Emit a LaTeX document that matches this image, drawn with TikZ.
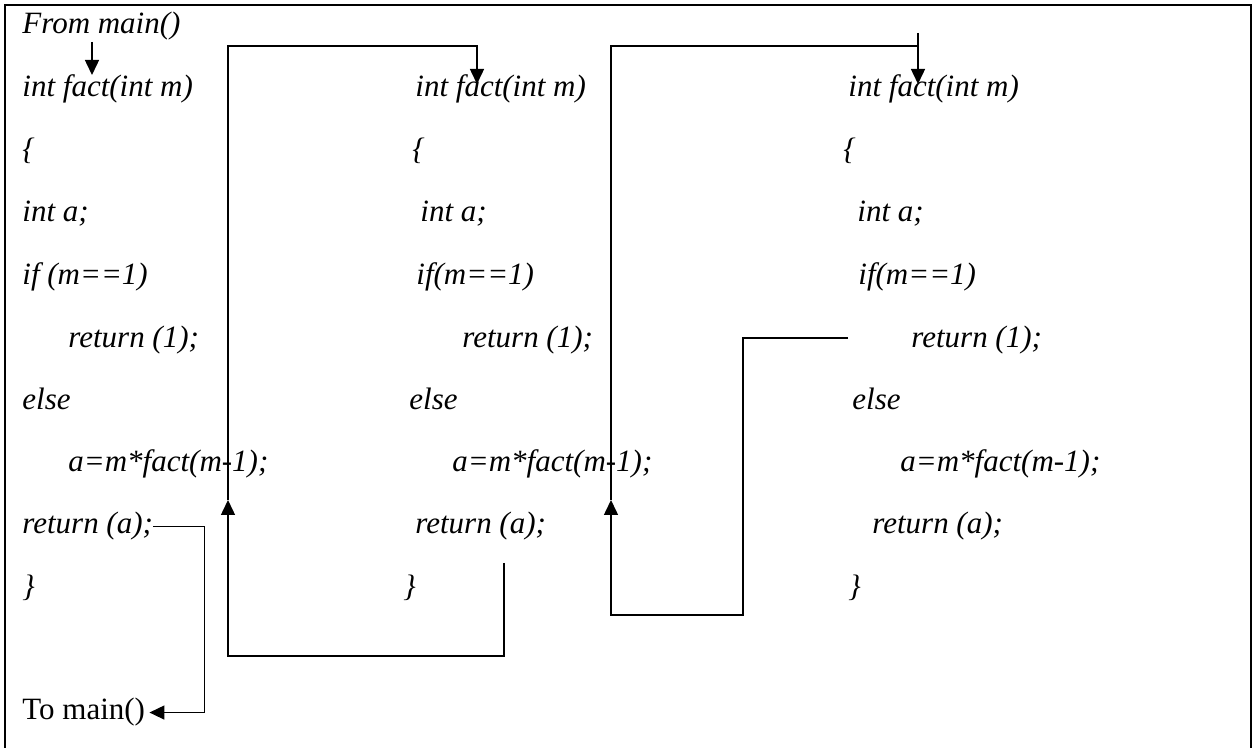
\documentclass[tikz,border=0pt]{standalone}
\usepackage{fontspec}
\setmainfont{Liberation Serif}
\usetikzlibrary{arrows.meta}
\tikzset{
    code/.style={anchor=base west, inner sep=0pt, font=\fontsize{15.5}{18}\selectfont\itshape},
    plain/.style={anchor=base west, inner sep=0pt, font=\fontsize{15.5}{18}\selectfont},
    flow/.style={line width=0.75pt},
    tip/.style={-{Triangle[length=7.5pt,width=7pt]}}
}

\begin{document}
\begin{tikzpicture}[x=0.5pt,y=-0.5pt]
    \useasboundingbox (0,0) rectangle (1255,748);
    \draw[line width=1pt] (5,748) -- (5,5) -- (1251,5) -- (1251,748);

    % first call
    \node[code] (main) at (22,34) {From main()};
    \node[code] (f1) at (22,97) {int fact(int m)};
    \node[code] (o1) at (22,160) {\{};
    \node[code] (a1) at (22,222) {int a;};
    \node[code] (if1) at (22,285) {if (m==1)};
    \node[code] (r11) at (68,348) {return (1);};
    \node[code] (e1) at (22,410) {else};
    \node[code] (m1) at (68,472) {a=m*fact(m-1);};
    \node[code] (ra1) at (22,534) {return (a);};
    \node[code] (c1) at (22,597) {\}};
    \node[plain] (tomain) at (22,720) {To main()};

    % second call
    \node[code] (f2) at (415,97) {int fact(int m)};
    \node[code] (o2) at (412,160) {\{};
    \node[code] (a2) at (420,222) {int a;};
    \node[code] (if2) at (416,285) {if(m==1)};
    \node[code] (r12) at (462,348) {return (1);};
    \node[code] (e2) at (409,410) {else};
    \node[code] (m2) at (452,472) {a=m*fact(m-1);};
    \node[code] (ra2) at (415,534) {return (a);};
    \node[code] (c2) at (403,597) {\}};

    % third call
    \node[code] (f3) at (848,97) {int fact(int m)};
    \node[code] (o3) at (843,160) {\{};
    \node[code] (a3) at (857,222) {int a;};
    \node[code] (if3) at (858,285) {if(m==1)};
    \node[code] (r13) at (911,348) {return (1);};
    \node[code] (e3) at (852,410) {else};
    \node[code] (m3) at (900,472) {a=m*fact(m-1);};
    \node[code] (ra3) at (872,534) {return (a);};
    \node[code] (c3) at (848,597) {\}};

    \coordinate (in1) at (228,500);
    \coordinate (in2) at (611,500);
    \coordinate (back2) at (504,563);
    \coordinate (back3) at (848,338);

    \draw[flow,tip] (92,42) -- (92,75);
    \draw[flow,tip] (in1) -- (228,46) -| (477,84);
    \draw[flow] (in2) |- (918,46);
    \draw[flow,tip] (918,33) -- (918,84);
    \draw[flow,tip] (back3) -| (743,615) -| (in2);
    \draw[flow,tip] (back2) -- (504,656) -| (in1);
    \draw[flow,tip] (ra1.east) -- ++(51,0) |- ([xshift=2pt]tomain.east);
\end{tikzpicture}
\end{document}
